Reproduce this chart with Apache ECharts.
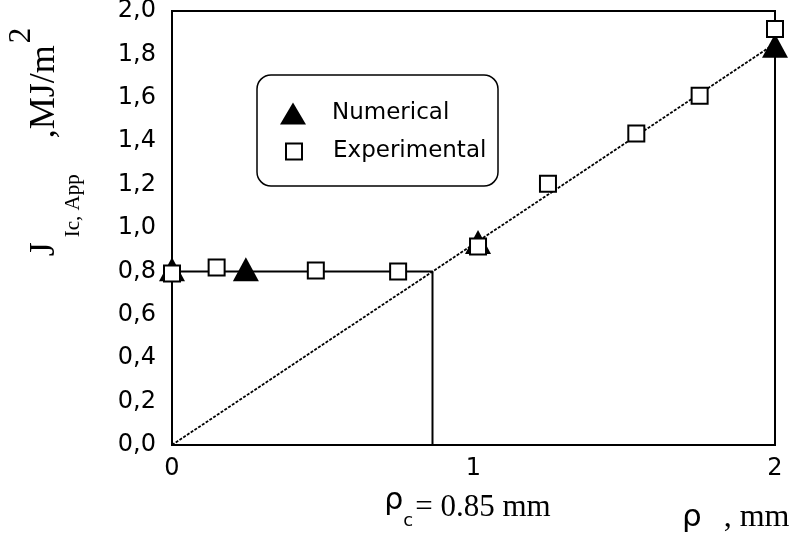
<!DOCTYPE html>
<html>
<head>
<meta charset="utf-8">
<script src="https://cdn.jsdelivr.net/npm/echarts@6/dist/echarts.min.js"></script>
<style>html,body{margin:0;padding:0;background:#fff}#c{width:797px;height:539px}</style>
</head>
<body>
<div id="c"></div>
<script>
// Numerical results (triangles)
const numX = [0, 0.245, 1.015, 2.0];
const numY = [0.81, 0.81, 0.935, 1.84];
// Experimental results (squares)
const expX = [0, 0.148, 0.477, 0.75, 1.015, 1.247, 1.54, 1.75, 2.0];
const expY = [0.79, 0.818, 0.804, 0.80, 0.915, 1.204, 1.435, 1.61, 1.917];
// Plateau line, linear fit line, critical radius line
const flatX = [0, 0.864];
const flatY = [0.8, 0.8];
const slopeX = [0, 2.0];
const slopeY = [0, 1.85];
const rhoCX = [0.864, 0.864];
const rhoCY = [0, 0.8];
// Axis ticks
const xTicks = [0, 1, 2];
const yTicks = [0, 0.2, 0.4, 0.6, 0.8, 1.0, 1.2, 1.4, 1.6, 1.8, 2.0];

const zip = (a, b) => a.map((v, i) => [v, b[i]]);
const chart = echarts.init(document.getElementById('c'), null, {renderer: 'canvas'});
const tickFont = {fontFamily: 'DejaVu Sans', fontSize: 24, color: '#000'};

chart.setOption({
  animation: false,
  backgroundColor: '#fff',
  grid: {left: 172, right: 22, top: 11, bottom: 94, show: true, borderColor: '#000', borderWidth: 2,
         containLabel: false, outerBoundsMode: 'none'},
  xAxis: {
    type: 'value', min: xTicks[0], max: xTicks[xTicks.length - 1], interval: 1,
    axisLine: {lineStyle: {color: '#000', width: 2}},
    axisTick: {show: false}, splitLine: {show: false},
    axisLabel: Object.assign({margin: 12}, tickFont),
    name: '{r|ρ}{c|c}{t|= 0.85 mm}',
    nameLocation: 'middle', nameGap: 31,
    nameTextStyle: {
      padding: [0, 12, 0, 0],
      rich: {
        r: {fontFamily: 'DejaVu Sans', fontSize: 30, color: '#000', verticalAlign: 'top', lineHeight: 36},
        c: {fontFamily: 'DejaVu Sans', fontSize: 18, color: '#000', verticalAlign: 'bottom', lineHeight: 18, padding: [0, 2, 0, 0]},
        t: {fontFamily: 'Liberation Serif', fontSize: 31, color: '#000', verticalAlign: 'middle', lineHeight: 44}
      }
    }
  },
  yAxis: {
    type: 'value', min: yTicks[0], max: yTicks[yTicks.length - 1], interval: 0.2,
    axisLine: {lineStyle: {color: '#000', width: 2}},
    axisTick: {show: false}, splitLine: {show: false},
    axisLabel: Object.assign({margin: 16, formatter: v => v.toFixed(1).replace('.', ',')}, tickFont),
    name: '{m|J}{s|Ic, App}{g| }{m|,MJ/m}{p|2}',
    nameLocation: 'middle', nameGap: 88,
    nameTextStyle: {
      padding: [0, 0, 0, 172],
      rich: {
        m: {fontFamily: 'Liberation Serif', fontSize: 36, color: '#000', verticalAlign: 'middle', lineHeight: 78},
        s: {fontFamily: 'Liberation Serif', fontSize: 21, color: '#000', verticalAlign: 'bottom', lineHeight: 21, padding: [0, 0, 0, 5]},
        g: {fontSize: 10, width: 36, lineHeight: 10},
        p: {fontFamily: 'Liberation Serif', fontSize: 31, color: '#000', verticalAlign: 'top', lineHeight: 31, padding: [0, 0, 0, 2]}
      }
    }
  },
  legend: [
    {
      left: 280, top: 102, padding: 0, orient: 'vertical',
      itemWidth: 26, itemHeight: 22,
      data: [{name: 'Numerical', icon: 'triangle', itemStyle: {color: '#000', borderWidth: 0, opacity: 1}}],
      textStyle: {fontFamily: 'DejaVu Sans', fontSize: 23, color: '#000', padding: [0, 0, 0, 21]}
    },
    {
      left: 285, top: 140, padding: 0, orient: 'vertical',
      itemWidth: 16, itemHeight: 16,
      data: [{name: 'Experimental', icon: 'rect', itemStyle: {color: '#fff', borderColor: '#000', borderWidth: 2, opacity: 1}}],
      textStyle: {fontFamily: 'DejaVu Sans', fontSize: 23, color: '#000', padding: [0, 0, 0, 26]}
    }
  ],
  graphic: [{
    type: 'rect', z: 0, silent: true,
    shape: {x: 257, y: 75, width: 241, height: 111, r: 14},
    style: {fill: '#fff', stroke: '#000', lineWidth: 1.5}
  }, {
    type: 'text', left: 682, top: 502,
    style: {
      text: '{r|ρ}{g| }{t|, mm}',
      rich: {
        r: {fontFamily: 'DejaVu Sans', fontSize: 31, fill: '#000', lineHeight: 36},
        g: {fontSize: 10, width: 22},
        t: {fontFamily: 'Liberation Serif', fontSize: 32, fill: '#000', lineHeight: 36}
      }
    }
  }],
  series: [
    {type: 'line', name: 'plateau', data: zip(flatX, flatY), symbol: 'none', lineStyle: {color: '#000', width: 2}, z: 2},
    {type: 'line', name: 'fit', data: zip(slopeX, slopeY), symbol: 'none', lineStyle: {color: '#000', width: 1.8, type: [3, 1.5]}, z: 2},
    {type: 'line', name: 'rhoc', data: zip(rhoCX, rhoCY), symbol: 'none', lineStyle: {color: '#000', width: 2}, z: 2},
    {type: 'scatter', name: 'Numerical', data: zip(numX, numY), symbol: 'triangle', symbolSize: [26, 24],
      itemStyle: {color: '#000', opacity: 1}, clip: false, z: 3},
    {type: 'scatter', name: 'Experimental', data: zip(expX, expY), symbol: 'rect', symbolSize: 16,
      itemStyle: {color: '#fff', borderColor: '#000', borderWidth: 2, opacity: 1}, clip: false, z: 4}
  ]
});
</script>
</body>
</html>
